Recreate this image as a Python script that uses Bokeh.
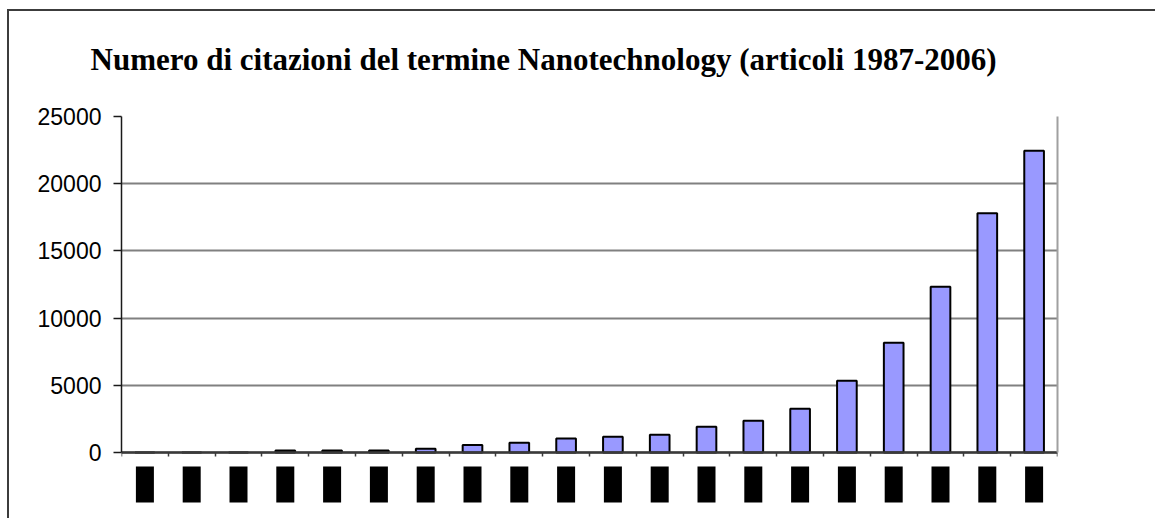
import numpy as np
from bokeh.plotting import figure
from bokeh.models import ColumnDataSource, Range1d, FixedTicker, LinearAxis, Title
from bokeh.embed import file_html
from bokeh.resources import INLINE

# ---- data ----
years = [str(y) for y in range(1987, 2007)]
citations = [0, 0, 0, 150, 150, 150, 280, 550, 720, 1040, 1170, 1320,
             1910, 2360, 3250, 5330, 8160, 12330, 17810, 22450]
y_ticks = [0, 5000, 10000, 15000, 20000, 25000]
title_text = "Numero di citazioni del termine Nanotechnology (articoli 1987-2006)"

n = len(years)
xpos = np.arange(n) + 0.5
src = ColumnDataSource(dict(x=xpos, top=citations, year=years, zero=[0] * n))

# layout (absolute page pixels)
ORG_X, ORG_Y = 9, 11                 # canvas origin (margin + border)
W, H = 1148, 509
frame_left, frame_right = 121, 1057
grid_top, axis_y, frame_bottom = 116, 452, 508
ymax = y_ticks[-1]
px_per_unit = (axis_y - grid_top) / ymax
y_lo = -(frame_bottom - axis_y) / px_per_unit

FL = frame_left - ORG_X
FT = grid_top - ORG_Y
FW = frame_right - frame_left
FH = frame_bottom - grid_top

p = figure(width=W, height=H, output_backend="svg", toolbar_location=None,
           title=None,
           x_range=Range1d(0, n), y_range=Range1d(y_lo, ymax),
           min_border_left=FL, min_border_right=W - FL - FW,
           min_border_top=FT, min_border_bottom=H - FT - FH)
p.styles = {"border-left": "2px solid #3c3c3c", "border-top": "2px solid #3c3c3c",
            "margin-left": "7px", "margin-top": "9px"}

# spacer between title and plot area, then the title itself
p.add_layout(Title(text=" ", text_font_size="22px", standoff=0), "above")
p.add_layout(Title(text=title_text, text_font="Liberation Serif",
                   text_font_style="bold", text_font_size="31px",
                   text_color="black", align="left", offset=-31,
                   vertical_align="bottom", text_baseline="alphabetic",
                   standoff=25), "above")

p.vbar(x="x", top="top", width=0.42, source=src,
       fill_color="#9999FF", line_color="black", line_width=2)

# year labels (rendered as black blocks, as in the original)
p.text(x="x", y="zero", text="year", source=src, angle=np.pi / 2,
       text_align="right", text_baseline="middle",
       text_font="Liberation Sans", text_font_size="15px",
       text_color="black", background_fill_color="black",
       padding=(3, 4), y_offset=14)

# axes
p.yaxis.bounds = (0, ymax)
p.yaxis.ticker = FixedTicker(ticks=y_ticks)
p.yaxis.major_label_text_font = "Liberation Sans"
p.yaxis.major_label_text_font_size = "23px"
p.yaxis.major_label_text_color = "black"
p.yaxis.major_label_standoff = 12
p.yaxis.axis_line_color = "#1a1a1a"
p.yaxis.axis_line_width = 1.5
p.yaxis.major_tick_line_color = "#1a1a1a"
p.yaxis.major_tick_line_width = 1.5
p.yaxis.major_tick_in = 0
p.yaxis.major_tick_out = 8
p.yaxis.minor_tick_line_color = None

boundaries = list(range(0, n + 1))
p.xaxis.fixed_location = 0
p.xaxis.ticker = FixedTicker(ticks=boundaries)
p.xaxis.major_label_overrides = {b: "" for b in boundaries}
p.xaxis.axis_line_color = "#3a3a3a"
p.xaxis.axis_line_width = 2.5
p.xaxis.major_tick_line_color = "#3a3a3a"
p.xaxis.major_tick_line_width = 1.5
p.xaxis.major_tick_in = 0
p.xaxis.major_tick_out = 4
p.xaxis.minor_tick_line_color = None

right = LinearAxis(bounds=(0, ymax), ticker=FixedTicker(ticks=[]),
                   axis_line_color="#a0a0a0", axis_line_width=2,
                   minor_tick_line_color=None, major_tick_line_color=None)
p.add_layout(right, "right")

p.xgrid.grid_line_color = None
p.ygrid.ticker = FixedTicker(ticks=y_ticks)
p.ygrid.grid_line_color = "#808080"
p.ygrid.grid_line_width = 2

p.outline_line_color = None
p.background_fill_color = "white"
p.border_fill_color = "white"

open("out.html", "w").write(file_html(p, INLINE))
